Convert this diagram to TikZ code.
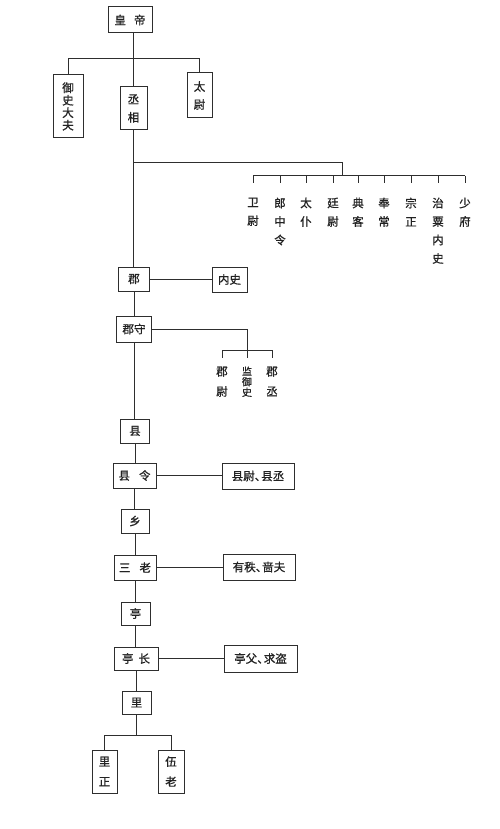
\documentclass[tikz,border=0pt]{standalone}
\usepackage{fontspec}
\newfontfamily\cjk{Noto Sans CJK SC}[FakeBold=0.8]
\definecolor{linec}{HTML}{2e2e2e}
\definecolor{txtc}{HTML}{222222}
\begin{document}
\begin{tikzpicture}[x=1pt,y=-1pt,
  every node/.style={text=txtc},
  box/.style={draw=linec, line width=1pt, inner sep=0pt, align=center,
    font=\cjk\fontsize{11.5}{12.5}\selectfont},
  col/.style={inner sep=0pt, align=center, anchor=north,
    font=\cjk\fontsize{11.5}{18.5}\selectfont},
  scol/.style={inner sep=0pt, align=center, anchor=north,
    font=\cjk\fontsize{11.5}{20}\selectfont},
  tcol/.style={inner sep=0pt, align=center, anchor=north,
    font=\cjk\fontsize{10}{10.5}\selectfont},
  conn/.style={draw=linec, line width=1pt}]
\fill[white] (0,0) rectangle (500,829);
\useasboundingbox (0,0) rectangle (500,829);

% top level
\node[box, minimum width=44, minimum height=26] (huangdi) at (130,20) {皇\hspace{8pt}帝};
\node[box, minimum width=30, minimum height=63] (yushi) at (68,106.5) {御\\史\\大\\夫};
\node[box, minimum width=27, minimum height=43, font=\cjk\fontsize{11.5}{18}\selectfont] (chengxiang) at (133.5,108.5) {丞\\相};
\node[box, minimum width=25, minimum height=45, font=\cjk\fontsize{11.5}{18}\selectfont] (taiwei) at (199.5,95.5) {太\\尉};

\coordinate (tb) at (133.5,59);
\draw[conn] (chengxiang.north |- huangdi.south) -- (chengxiang.north);
\draw[conn] (yushi.north) -- (yushi.north |- tb) -- (taiwei.north |- tb) -- (taiwei.north);

% nine ministers
\node[col] (m1) at (253,197.5) {卫\\尉};
\node[col] (m2) at (280,197.5) {郎\\中\\令};
\node[col] (m3) at (306,197.5) {太\\仆};
\node[col] (m4) at (333,197.5) {廷\\尉};
\node[col] (m5) at (358,197.5) {典\\客};
\node[col] (m6) at (384,197.5) {奉\\常};
\node[col] (m7) at (411,197.5) {宗\\正};
\node[col] (m8) at (438,197.5) {治\\粟\\内\\史};
\node[col] (m9) at (465,197.5) {少\\府};

\coordinate (mb) at (133.5,163);
\coordinate (mbr) at (342,163);
\coordinate (mbd) at (342,176);
\draw[conn] (mb) -- (mbr) -- (mbd);
\draw[conn] (m1.north |- mbd) -- (m9.north |- mbd);
\foreach \m in {m1,m2,m3,m4,m5,m6,m7,m8,m9}
  \draw[conn] (\m.north |- mbd) -- ++(0,7);

% commandery
\node[box, minimum width=31, minimum height=24] (jun) at (134,279) {郡};
\node[box, minimum width=35, minimum height=25] (neishi) at (229.5,279.5) {内史};
\node[box, minimum width=35, minimum height=26] (junshou) at (134,329) {郡守};

\draw[conn] (chengxiang.south) -- (chengxiang.south |- jun.north);
\draw[conn] (jun.east) -- (neishi.west |- jun.east);
\draw[conn] (jun.south) -- (junshou.north);

\node[scol] (junwei) at (222,366.5) {郡\\尉};
\node[tcol] (jianyushi) at (247,366.5) {监\\御\\史};
\node[scol] (juncheng) at (272,366.5) {郡\\丞};
\coordinate (jbd) at (247,350);
\draw[conn] (junshou.east) -| (jbd);
\draw[conn] (junwei.north |- jbd) -- (juncheng.north |- jbd);
\foreach \m in {junwei,jianyushi,juncheng}
  \draw[conn] (\m.north |- jbd) -- ++(0,8);

% county
\node[box, minimum width=29, minimum height=24] (xian) at (135,431) {县};
\node[box, minimum width=43, minimum height=25] (xianling) at (134.5,475.5) {县\hspace{9pt}令};
\node[box, minimum width=72, minimum height=26] (xianwei) at (258,476) {县尉、\kern-5pt县丞};
\draw[conn] (junshou.south) -- (junshou.south |- xian.north);
\draw[conn] (xian.south) -- (xian.south |- xianling.north);
\draw[conn] (xianling.east) -- (xianwei.west |- xianling.east);

% township
\node[box, minimum width=28, minimum height=24] (xiang) at (135,521) {乡};
\node[box, minimum width=42, minimum height=25] (sanlao) at (135,567.5) {三\hspace{9pt}老};
\node[box, minimum width=72, minimum height=26] (youzhi) at (259,567) {有秩、\kern-5pt啬夫};
\draw[conn] (xianling.south) -- (xianling.south |- xiang.north);
\draw[conn] (xiang.south) -- (sanlao.north);
\draw[conn] (sanlao.east) -- (youzhi.west |- sanlao.east);

% ting
\node[box, minimum width=29, minimum height=23] (ting) at (135.5,613.5) {亭};
\node[box, minimum width=44, minimum height=23] (tingzhang) at (136,658.5) {亭\hspace{5pt}长};
\node[box, minimum width=73, minimum height=27] (tingfu) at (260.5,658.5) {亭父、\kern-5pt求盗};
\draw[conn] (sanlao.south) -- (sanlao.south |- ting.north);
\draw[conn] (ting.south) -- (ting.south |- tingzhang.north);
\draw[conn] (tingzhang.east) -- (tingfu.west |- tingzhang.east);

% li
\node[box, minimum width=29, minimum height=23] (li) at (136.5,702.5) {里};
\node[box, minimum width=25, minimum height=43, font=\cjk\fontsize{11.5}{20}\selectfont] (lizheng) at (104.5,771.5) {里\\正};
\node[box, minimum width=26, minimum height=43, font=\cjk\fontsize{11.5}{20}\selectfont] (wulao) at (171,771.5) {伍\\老};
\draw[conn] (tingzhang.south) -- (tingzhang.south |- li.north);
\coordinate (lb) at (136.5,735);
\draw[conn] (li.south) -- (lb);
\draw[conn] (lizheng.north |- lb) -- (wulao.north |- lb);
\draw[conn] (lizheng.north |- lb) -- (lizheng.north);
\draw[conn] (wulao.north |- lb) -- (wulao.north);
\end{tikzpicture}
\end{document}
